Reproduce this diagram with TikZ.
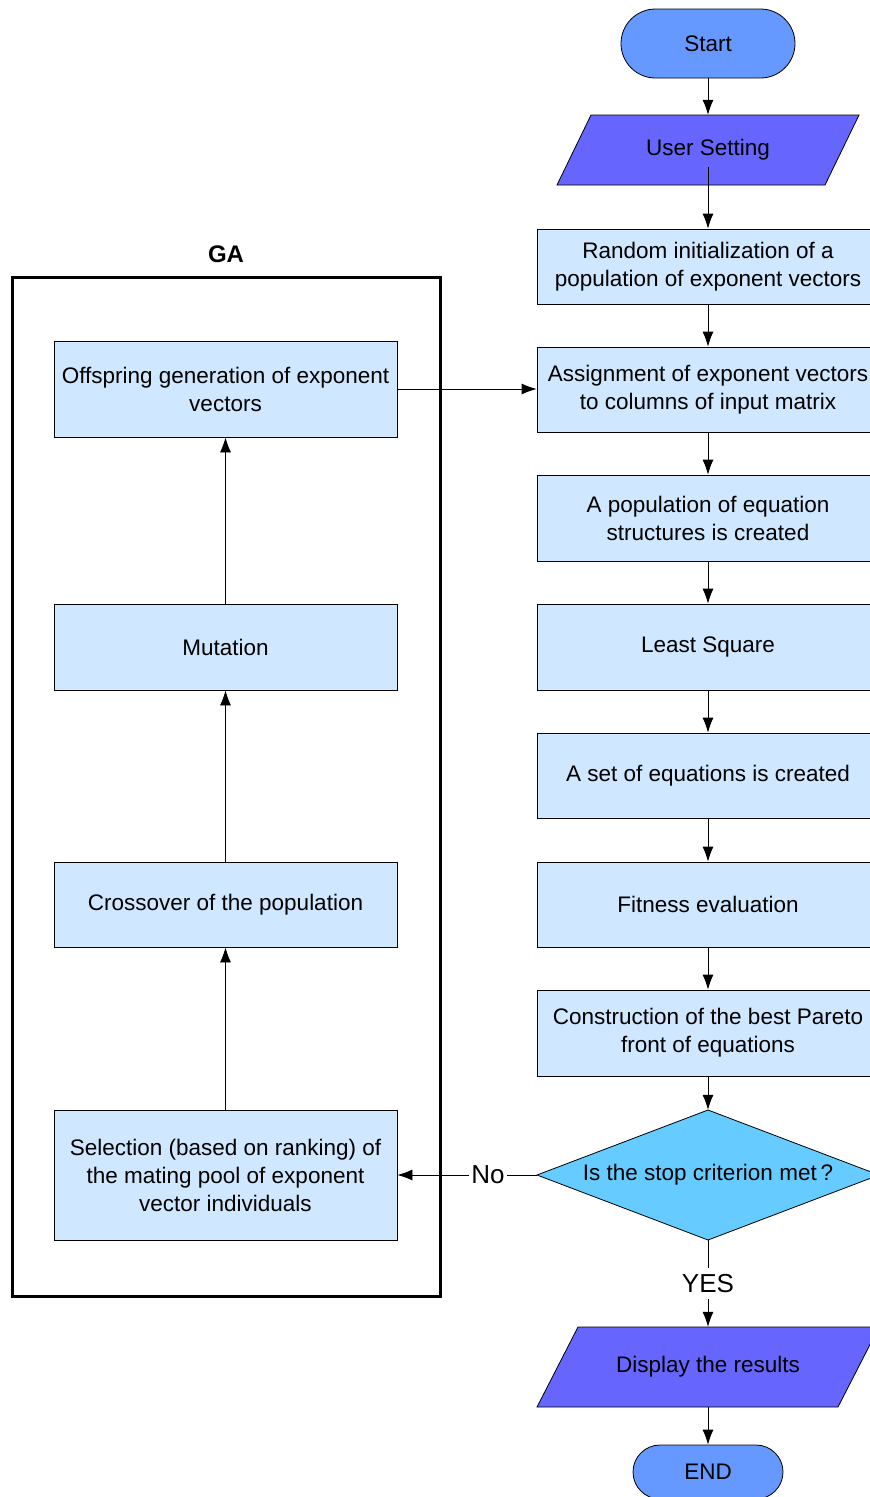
\documentclass[tikz,border=0pt]{standalone}
\usepackage{fontspec}
\setmainfont{Liberation Sans}
\usetikzlibrary{arrows.meta,shapes.misc}
\definecolor{boxfill}{RGB}{207,231,255}
\definecolor{termfill}{RGB}{102,153,255}
\definecolor{iofill}{RGB}{102,102,255}
\definecolor{decfill}{RGB}{102,204,255}
\begin{document}
\begin{tikzpicture}[x=1pt,y=-1pt,
  every node/.style={font=\fontsize{22.5}{28}\selectfont, inner sep=0pt},
  box/.style={draw=black, line width=0.8pt, fill=boxfill, minimum width=342pt, align=center},
  term/.style={rounded rectangle, draw=black, line width=0.8pt, fill=termfill},
  shapeline/.style={draw=black, line width=0.8pt},
  arr/.style={-{Latex[length=15pt,width=11pt]}, line width=0.8pt},
  frame/.style={draw=black, line width=3pt},
  lbl/.style={fill=white, inner xsep=2pt, inner ysep=6pt, font=\fontsize{26}{30}\selectfont}]
\useasboundingbox (0,0) rectangle (870,1497);
\clip (0,0) rectangle (870,1497);

% GA frame
\draw[frame] (12,277) rectangle (440,1296);
\node[font=\fontsize{24}{28}\selectfont\bfseries] (ga) at (226,254) {GA};

% right column
\node[term, minimum width=174pt, minimum height=69pt] (start) at (708,43.5) {Start};

\coordinate (usc) at (708,150);
\draw[shapeline, fill=iofill] ([shift={(-151,35)}]usc) -- ([shift={(117,35)}]usc) -- ([shift={(151,-35)}]usc) -- ([shift={(-117,-35)}]usc) -- cycle;
\node[minimum width=268pt, minimum height=70pt] (us) at (usc) {User Setting};

\node[box, minimum height=75pt] (r1) at (708,266.5) {Random initialization of a\\population of exponent vectors};
\node[box, minimum height=85pt] (r2) at (708,389.5) {Assignment of exponent vectors\\to columns of input matrix};
\node[box, minimum height=86pt] (r3) at (708,518) {A population of equation\\structures is created};
\node[box, minimum height=86pt] (r4) at (708,647) {Least Square};
\node[box, minimum height=85pt] (r5) at (708,775.5) {A set of equations is created};
\node[box, minimum height=85pt] (r6) at (708,904.5) {Fitness evaluation};
\node[box, minimum height=86pt] (r7) at (708,1033) {Construction of the best Pareto\\front of equations};

\coordinate (diac) at (708,1175);
\draw[shapeline, fill=decfill] ([shift={(-171,0)}]diac) -- ([shift={(0,-65)}]diac) -- ([shift={(171,0)}]diac) -- ([shift={(0,65)}]diac) -- cycle;
\node[minimum width=342pt, minimum height=130pt] (dia) at (diac) {Is the stop criterion met\,?};

\coordinate (dispc) at (708,1367);
\draw[shapeline, fill=iofill] ([shift={(-171,40)}]dispc) -- ([shift={(130,40)}]dispc) -- ([shift={(171,-40)}]dispc) -- ([shift={(-130,-40)}]dispc) -- cycle;
\node[minimum width=301pt, minimum height=80pt] (disp) at (dispc) {Display the results};

\node[term, minimum width=150pt, minimum height=54pt] (end) at (708,1472) {END};

% left column
\node[box, minimum width=343pt, minimum height=96pt] (off) at (225.5,389) {Offspring generation of exponent\\vectors};
\node[box, minimum width=343pt, minimum height=86pt] (mut) at (225.5,647) {Mutation};
\node[box, minimum width=343pt, minimum height=85pt] (cro) at (225.5,904.5) {Crossover of the population};
\node[box, minimum width=343pt, minimum height=130pt] (sel) at (225.5,1175) {Selection (based on ranking) of\\the mating pool of exponent\\vector individuals};

% connectors
\draw[arr] (start.south) -- (us.north);
\draw[arr] ([yshift=-17pt]us.center) -- (r1.north);
\draw[arr] (r1.south) -- (r2.north);
\draw[arr] (r2.south) -- (r3.north);
\draw[arr] (r3.south) -- (r4.north);
\draw[arr] (r4.south) -- (r5.north);
\draw[arr] (r5.south) -- (r6.north);
\draw[arr] (r6.south) -- (r7.north);
\draw[arr] (r7.south) -- (dia.north);
\draw[arr] (dia.south) -- node[lbl] {YES} (disp.north);
\draw[arr] (disp.south) -- (end.north);
\draw[arr] (dia.west) -- node[lbl, pos=0.35] {No} (sel.east);
\draw[arr] (sel.north) -- (cro.south);
\draw[arr] (cro.north) -- (mut.south);
\draw[arr] (mut.north) -- (off.south);
\draw[arr] (off.east) -- (off.east -| r2.west);
\end{tikzpicture}
\end{document}
